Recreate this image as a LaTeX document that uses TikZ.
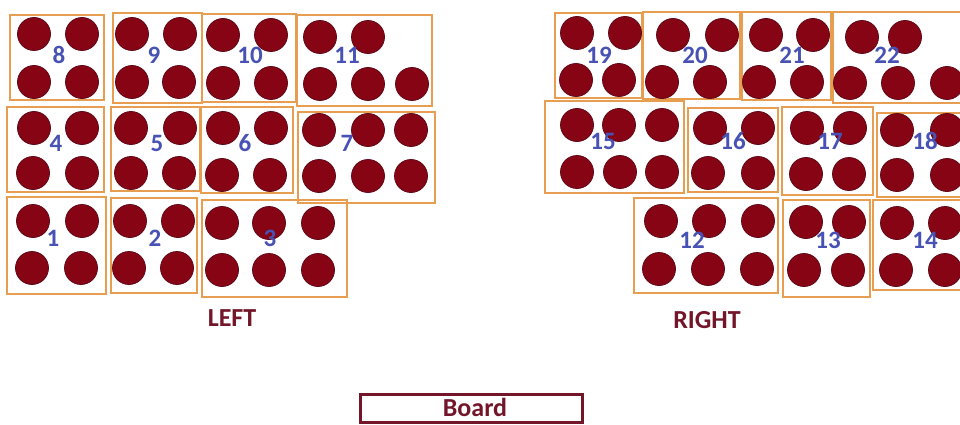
\documentclass[tikz,border=0pt]{standalone}
\usepackage{fontspec}
\setmainfont{Carlito}
\definecolor{seatred}{RGB}{135,4,20}
\definecolor{seatedge}{RGB}{95,10,25}
\definecolor{boxorange}{RGB}{232,158,80}
\definecolor{numblue}{RGB}{72,82,180}
\definecolor{titlered}{RGB}{115,22,42}
\tikzset{
  seat/.style={fill=seatred, draw=seatedge, line width=0.8pt},
  seatbox/.style={draw=boxorange, line width=2.6pt},
  num/.style={text=numblue, font=\fontsize{25}{25}\selectfont\bfseries, inner sep=0pt},
  title/.style={text=titlered, font=\fontsize{26}{26}\selectfont\bfseries, inner sep=0pt},
  boardbox/.style={draw=titlered, line width=3pt}
}
\begin{document}
\begin{tikzpicture}[x=1pt,y=-1pt]
\fill[white] (0,0) rectangle (960,425);
\useasboundingbox (0,0) rectangle (960,425);
% ---------- LEFT boxes ----------
\draw[seatbox] (10,15) rectangle (104,100);
\draw[seatbox] (113,13) rectangle (202,103);
\draw[seatbox] (202,14) rectangle (296,102);
\draw[seatbox] (297,15) rectangle (432,106);
\draw[seatbox] (7,107) rectangle (104,192);
\draw[seatbox] (111,107) rectangle (200,191);
\draw[seatbox] (201,107) rectangle (293,193);
\draw[seatbox] (298,112) rectangle (435,203);
\draw[seatbox] (7,197) rectangle (106,294);
\draw[seatbox] (111,198) rectangle (197,293);
\draw[seatbox] (202,200) rectangle (347,297);
% ---------- RIGHT boxes ----------
\draw[seatbox] (555,13) rectangle (642,98);
\draw[seatbox] (643,12) rectangle (740,99);
\draw[seatbox] (742,12) rectangle (831,100);
\draw[seatbox] (833,12) rectangle (975,103);
\draw[seatbox] (545,101) rectangle (684,193);
\draw[seatbox] (688,108) rectangle (778,192);
\draw[seatbox] (782,107) rectangle (873,195);
\draw[seatbox] (877,113) rectangle (975,197);
\draw[seatbox] (634,198) rectangle (778,293);
\draw[seatbox] (783,200) rectangle (870,297);
\draw[seatbox] (873,200) rectangle (975,290);
% ---------- seats ----------
\foreach \x/\y in {
  34/34, 82/34, 34/82, 82/82,
  132/34, 180/34, 132/82, 179/82,
  223/35, 271/35, 223/83, 271/83,
  320/37, 368/37, 320/84, 368/84, 412/84,
  34/128, 82/128, 33/173, 82/173,
  131/128, 180/128, 131/173, 179/173,
  223/128, 271/128, 222/175, 270/175,
  319/130, 368/130, 411/130, 319/176, 368/176, 411/176,
  33/221, 82/221, 32/268, 81/268,
  130/221, 178/221, 129/268, 177/268,
  222/223, 269/223, 318/223, 222/270, 269/270, 318/270,
  577/33, 625/33, 576/80, 619/80,
  673/35, 722/35, 662/82, 710/82,
  766/35, 813/35, 759/82, 807/82,
  862/37, 905/37, 850/83, 898/83, 947/83,
  577/125, 619/125, 662/125, 577/172, 620/172, 662/172,
  710/128, 758/128, 708/173, 758/173,
  807/128, 850/128, 806/174, 849/174,
  897/130, 947/130, 897/175, 947/175,
  661/221, 709/221, 758/221, 659/269, 708/269, 757/269,
  806/222, 849/222, 804/270, 848/270,
  897/223, 945/223, 896/270, 945/270}
  \fill[seat] (\x,\y) circle[radius=16.5];
% ---------- numbers ----------
\node[num] (n8) at (59,55) {8};
\node[num] (n9) at (154,55) {9};
\node[num] (n10) at (250,55) {10};
\node[num] (n11) at (347,55) {11};
\node[num] (n4) at (56,143) {4};
\node[num] (n5) at (157,143) {5};
\node[num] (n6) at (245,143) {6};
\node[num] (n7) at (347,143) {7};
\node[num] (n1) at (53,238) {1};
\node[num] (n2) at (155,238) {2};
\node[num] (n3) at (270,238) {3};
\node[num] (n19) at (599,55) {19};
\node[num] (n20) at (695,55) {20};
\node[num] (n21) at (792,55) {21};
\node[num] (n22) at (887,55) {22};
\node[num] (n15) at (603,141) {15};
\node[num] (n16) at (733,141) {16};
\node[num] (n17) at (830,141) {17};
\node[num] (n18) at (925,141) {18};
\node[num] (n12) at (692,240) {12};
\node[num] (n13) at (828,240) {13};
\node[num] (n14) at (925,240) {14};
% ---------- titles ----------
\node[title] (left) at (232,318) {LEFT};
\node[title] (right) at (707,320) {RIGHT};
\draw[boardbox] (360,394) rectangle (582,422);
\node[title] (board) at (475,407) {Board};
\end{tikzpicture}
\end{document}
